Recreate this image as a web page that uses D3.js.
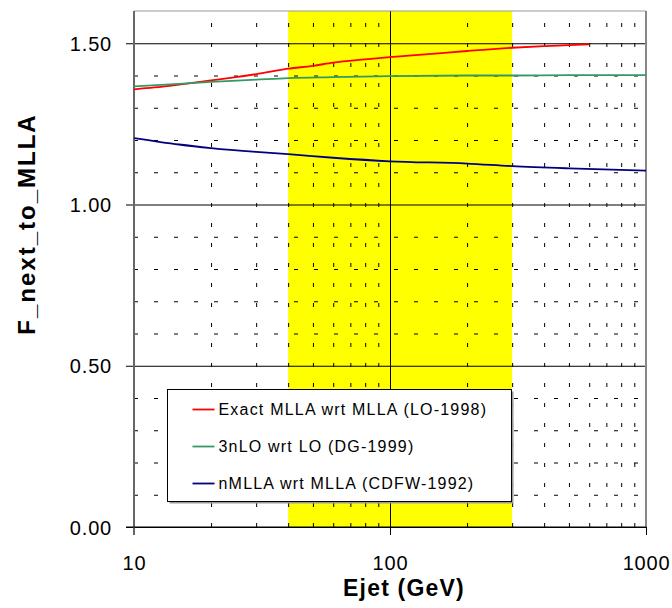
<!DOCTYPE html>
<html>
<head>
<meta charset="utf-8">
<script src="https://cdn.jsdelivr.net/npm/d3@7"></script>
<style>
  html, body { margin: 0; padding: 0; background: #fff; }
  svg { display: block; font-family: "Liberation Sans", Arial, sans-serif; }
</style>
</head>
<body>
<div id="chart"></div>
<script>
// series
const seriesNames = [
  "Exact MLLA wrt MLLA (LO-1998)",
  "3nLO wrt LO (DG-1999)",
  "nMLLA wrt MLLA (CDFW-1992)"
];
const seriesColors = ["#ff0000", "#339966", "#000080"];

const exactE = [10, 12, 15, 20, 25, 30, 40, 50, 60, 80, 100, 150, 200, 300, 400, 500, 600];
const exactF = [1.357, 1.363, 1.372, 1.385, 1.395, 1.404, 1.421, 1.430, 1.440, 1.450, 1.457, 1.468, 1.476, 1.486, 1.491, 1.494, 1.497];

const nloE = [10, 15, 20, 30, 40, 60, 100, 200, 300, 500, 1000];
const nloF = [1.366, 1.374, 1.380, 1.387, 1.392, 1.395, 1.398, 1.400, 1.400, 1.401, 1.401];

const nmllaE = [10, 15, 20, 30, 40, 60, 100, 200, 300, 500, 1000];
const nmllaF = [1.206, 1.186, 1.175, 1.163, 1.156, 1.145, 1.134, 1.127, 1.119, 1.112, 1.105];

const bandRange = [40, 300];
const xTicks = [10, 100, 1000];
const xMinor = [20, 30, 40, 50, 60, 70, 80, 90, 200, 300, 400, 500, 600, 700, 800, 900];
const yTicks = [0, 0.5, 1.0, 1.5];
const yMinor = [0.1, 0.2, 0.3, 0.4, 0.6, 0.7, 0.8, 0.9, 1.1, 1.2, 1.3, 1.4];

const W = 672, H = 608;
const margin = { top: 11, right: 26, bottom: 81, left: 134 };
const width = W - margin.left - margin.right,
  height = H - margin.top - margin.bottom;

const svg = d3.select("#chart").append("svg")
  .attr("width", W).attr("height", H);

const g = svg.append("g")
  .attr("transform", `translate(${margin.left},${margin.top})`);

const x = d3.scaleLog().domain([10, 1000]).range([0, width]);
const y = d3.scaleLinear().domain([0, 1.6]).range([height, 0]);

// yellow band
g.append("rect")
  .attr("x", x(bandRange[0]))
  .attr("y", 0)
  .attr("width", x(bandRange[1]) - x(bandRange[0]))
  .attr("height", height)
  .attr("fill", "#ffff00");

// minor dashed grid
g.append("g")
  .call(d3.axisLeft(y).tickValues(yMinor).tickSize(-width).tickFormat(""))
  .call(s => s.select(".domain").remove())
  .selectAll("line")
  .attr("stroke", "#000").attr("stroke-dasharray", "4,16");

g.append("g")
  .attr("transform", `translate(0,${height})`)
  .call(d3.axisBottom(x).tickValues(xMinor).tickSize(-height).tickFormat(""))
  .call(s => s.select(".domain").remove())
  .selectAll("line")
  .attr("stroke", "#000").attr("stroke-dasharray", "4,16");

// major grid + y axis
const yAxis = g.append("g")
  .call(d3.axisLeft(y).tickValues(yTicks).tickSizeInner(-width).tickSizeOuter(0)
    .tickPadding(14).tickFormat(d3.format(".2f")));
yAxis.select(".domain").remove();
yAxis.selectAll(".tick line")
  .attr("x1", -8).attr("x2", width).attr("stroke", "#000");
yAxis.selectAll(".tick text")
  .attr("x", -22).attr("dy", "0.36em")
  .style("font-size", "20px").style("letter-spacing", "0.8px").attr("fill", "#000");

const xAxis = g.append("g")
  .attr("transform", `translate(0,${height})`)
  .call(d3.axisBottom(x).tickValues(xTicks).tickSizeInner(-height).tickSizeOuter(0)
    .tickFormat(d3.format("d")));
xAxis.select(".domain").remove();
xAxis.selectAll(".tick line")
  .attr("y1", 8).attr("y2", -height).attr("stroke", "#000");
xAxis.selectAll(".tick text")
  .attr("y", 43).attr("dy", 0)
  .style("font-size", "20px").style("letter-spacing", "0.8px").attr("fill", "#000");

// frame
g.append("line").attr("x1", 0).attr("x2", width).attr("y1", 0).attr("y2", 0)
  .attr("stroke", "#999");
g.append("line").attr("x1", width).attr("x2", width).attr("y1", 0).attr("y2", height)
  .attr("stroke", "#888").attr("stroke-width", 2);
g.append("line").attr("x1", 0).attr("x2", 0).attr("y1", 0).attr("y2", height + 8)
  .attr("stroke", "#666").attr("stroke-width", 2);
g.append("line").attr("x1", -8).attr("x2", width).attr("y1", height).attr("y2", height)
  .attr("stroke", "#000");

// curves
const series = [
  { e: exactE, f: exactF },
  { e: nloE, f: nloF },
  { e: nmllaE, f: nmllaF }
];
const line = d3.line()
  .x(d => x(d[0]))
  .y(d => y(d[1]))
  .curve(d3.curveMonotoneX);

g.selectAll("path.series")
  .data(series)
  .join("path")
  .attr("class", "series")
  .attr("fill", "none")
  .attr("stroke", (d, i) => seriesColors[i])
  .attr("stroke-width", 1.8)
  .attr("d", d => line(d.e.map((v, i) => [v, d.f[i]])));

// legend
const legend = g.append("g").attr("transform", `translate(${167.5 - margin.left},${389.5 - margin.top})`);
legend.append("rect")
  .attr("x", 2).attr("y", 2).attr("width", 344).attr("height", 112)
  .attr("fill", "#999");
legend.append("rect")
  .attr("width", 344).attr("height", 112)
  .attr("fill", "#fff").attr("stroke", "#000");

const rows = legend.selectAll("g.row")
  .data(seriesNames)
  .join("g")
  .attr("class", "row")
  .attr("transform", (d, i) => `translate(0,${20 + i * 37})`);
rows.append("line")
  .attr("x1", 25).attr("x2", 47)
  .attr("stroke", (d, i) => seriesColors[i]).attr("stroke-width", 1.8);
rows.append("text")
  .attr("x", 51).attr("y", 5.5)
  .style("font-size", "16px").style("letter-spacing", "1.2px")
  .attr("fill", "#000")
  .text(d => d);

// axis titles
svg.append("text")
  .attr("x", 404).attr("y", 596)
  .attr("text-anchor", "middle")
  .style("font-size", "23px").style("font-weight", "bold").style("letter-spacing", "1.2px")
  .text("Ejet (GeV)");

svg.append("text")
  .attr("transform", "translate(35,224) rotate(-90)")
  .attr("text-anchor", "middle")
  .style("font-size", "24px").style("font-weight", "bold").style("letter-spacing", "2px")
  .text("F_next_to_MLLA");
</script>
</body>
</html>
